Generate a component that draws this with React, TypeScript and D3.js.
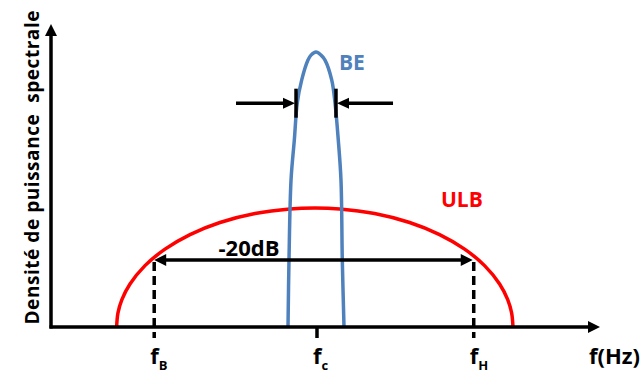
import React from "react";
import * as d3 from "d3";

// ---- data (frequency in arbitrary units 0..100, level 0..1) ----
const ulbFreq = [11.95, 12.2, 12.93, 14.39, 17.12, 20.77, 25.32, 30.78, 37.16, 43.53, 48.05, 52.57, 58.94, 65.32, 70.78, 75.34, 78.98, 81.71, 83.17, 83.9, 84.15];
const ulbLevel = [0, 0.0456, 0.089, 0.1387, 0.198, 0.2513, 0.2982, 0.3371, 0.366, 0.3809, 0.3839, 0.3809, 0.366, 0.3371, 0.2982, 0.2513, 0.198, 0.1387, 0.089, 0.0456, 0];

const beFreq = [43.17, 43.35, 43.72, 44.32, 44.86, 45.67, 46.81, 47.36, 48.27, 49.18, 49.91, 51.13, 51.73, 52.33, 52.82, 53.06, 53.37];
const beLevel = [0, 0.216, 0.474, 0.603, 0.723, 0.797, 0.861, 0.877, 0.887, 0.877, 0.861, 0.797, 0.723, 0.603, 0.474, 0.216, 0];

const tickFreq = [18.8, 48.45, 77.0];
const tickLabels = ["B", "c", "H"]; // subscripts of f
const dbLevel = 0.216; // -20 dB level
const beWidthFreq = [44.63, 51.91];
const beWidthLevel = 0.722;
const beArrowOuter = [33.7, 62.3];

const W = 642;
const H = 374;
const FONT = "'Open Sans', sans-serif";
const RED = "#FF0000";
const BLUE = "#4F81BD";

export default function App() {
  const x = d3.scaleLinear().domain([0, 100]).range([51, 600]);
  const y = d3.scaleLinear().domain([0, 1]).range([327, 17]);

  const line = d3
    .line<[number, number]>()
    .x((d) => x(d[0]))
    .y((d) => y(d[1]))
    .curve(d3.curveCatmullRom.alpha(0.5));

  const ulbPts = ulbFreq.map((f, i) => [f, ulbLevel[i]] as [number, number]);
  const bePts = beFreq.map((f, i) => [f, beLevel[i]] as [number, number]);

  const x0 = x(0);
  const y0 = y(0);
  const yTop = y(1) + 7;
  const xEnd = x(100);

  const head = (tx: number, ty: number, dx: number, dy: number, L: number, w: number) => {
    const bx = tx - dx * L;
    const by = ty - dy * L;
    const px = -dy * w;
    const py = dx * w;
    return `${tx},${ty} ${bx + px},${by + py} ${bx - px},${by - py}`;
  };

  const dbY = y(dbLevel);
  const beY = y(beWidthLevel);

  return (
    <svg
      width={W}
      height={H}
      style={{ position: "absolute", left: 0, top: 0, background: "#fff" }}
      fontFamily={FONT}
    >
      <rect width={W} height={H} fill="#fff" />
      {/* ULB curve */}
      <path d={line(ulbPts) || ""} fill="none" stroke={RED} strokeWidth={3.5} />
      {/* BE curve */}
      <path d={line(bePts) || ""} fill="none" stroke={BLUE} strokeWidth={3.5} />

      {/* axes */}
      <line x1={x0} y1={y0 + 1.5} x2={x0} y2={yTop + 11} stroke="#000" strokeWidth={3.5} />
      <polygon points={head(x0, yTop, 0, -1, 12, 6)} fill="#000" />
      <line x1={x0 - 1.5} y1={y0} x2={xEnd - 11} y2={y0} stroke="#000" strokeWidth={3.5} />
      <polygon points={head(xEnd, y0, 1, 0, 12, 6)} fill="#000" />

      {/* fc tick */}
      <line x1={x(tickFreq[1])} y1={y0} x2={x(tickFreq[1])} y2={y0 + 11} stroke="#000" strokeWidth={3.5} />
      {/* dashed verticals at fB, fH */}
      {[tickFreq[0], tickFreq[2]].map((f, i) => (
        <line
          key={i}
          x1={x(f)}
          y1={dbY + 2}
          x2={x(f)}
          y2={y0 + 11}
          stroke="#000"
          strokeWidth={3.5}
          strokeDasharray="9,5"
        />
      ))}

      {/* -20dB double arrow */}
      <line x1={x(tickFreq[0]) + 8} y1={dbY} x2={x(tickFreq[2]) - 8} y2={dbY} stroke="#000" strokeWidth={3.5} />
      <polygon points={head(x(tickFreq[0]), dbY, -1, 0, 12, 6)} fill="#000" />
      <polygon points={head(x(tickFreq[2]) - 1, dbY, 1, 0, 12, 6)} fill="#000" />
      <text x={249} y={256} fontSize={22} fontWeight="bold" textAnchor="middle" fill="#000">
        -20dB
      </text>

      {/* BE width markers */}
      {beWidthFreq.map((f, i) => (
        <line key={"b" + i} x1={x(f)} y1={beY - 14.5} x2={x(f)} y2={beY + 14.5} stroke="#000" strokeWidth={3.5} />
      ))}
      <line x1={x(beArrowOuter[0])} y1={beY} x2={x(beWidthFreq[0]) - 8} y2={beY} stroke="#000" strokeWidth={3.5} />
      <polygon points={head(x(beWidthFreq[0]) - 1, beY, 1, 0, 12, 5.5)} fill="#000" />
      <line x1={x(beArrowOuter[1])} y1={beY} x2={x(beWidthFreq[1]) + 8} y2={beY} stroke="#000" strokeWidth={3.5} />
      <polygon points={head(x(beWidthFreq[1]) + 1, beY, -1, 0, 12, 5.5)} fill="#000" />

      {/* series labels */}
      <text x={339} y={70} fontSize={21} fontWeight="bold" fill={BLUE}>
        BE
      </text>
      <text x={441} y={207} fontSize={21} fontWeight="bold" fill={RED}>
        ULB
      </text>

      {/* x tick labels */}
      {tickFreq.map((f, i) => (
        <text key={"t" + i} x={x(f) - 4} y={364} fontSize={22} fontWeight="bold" fill="#000">
          f
          <tspan fontSize={13} dy={6}>
            {tickLabels[i]}
          </tspan>
        </text>
      ))}
      <text x={589} y={364} fontSize={22} fontWeight="bold" fill="#000">
        f(Hz)
      </text>

      {/* y axis label */}
      <text
        transform={`translate(38.5,167.5) rotate(-90)`}
        fontSize={19}
        fontWeight="bold"
        textAnchor="middle"
        fill="#000"
        textLength={314}
        lengthAdjust="spacing"
        style={{ whiteSpace: "pre" }}
      >
        {"Densité de puissance  spectrale"}
      </text>
    </svg>
  );
}
